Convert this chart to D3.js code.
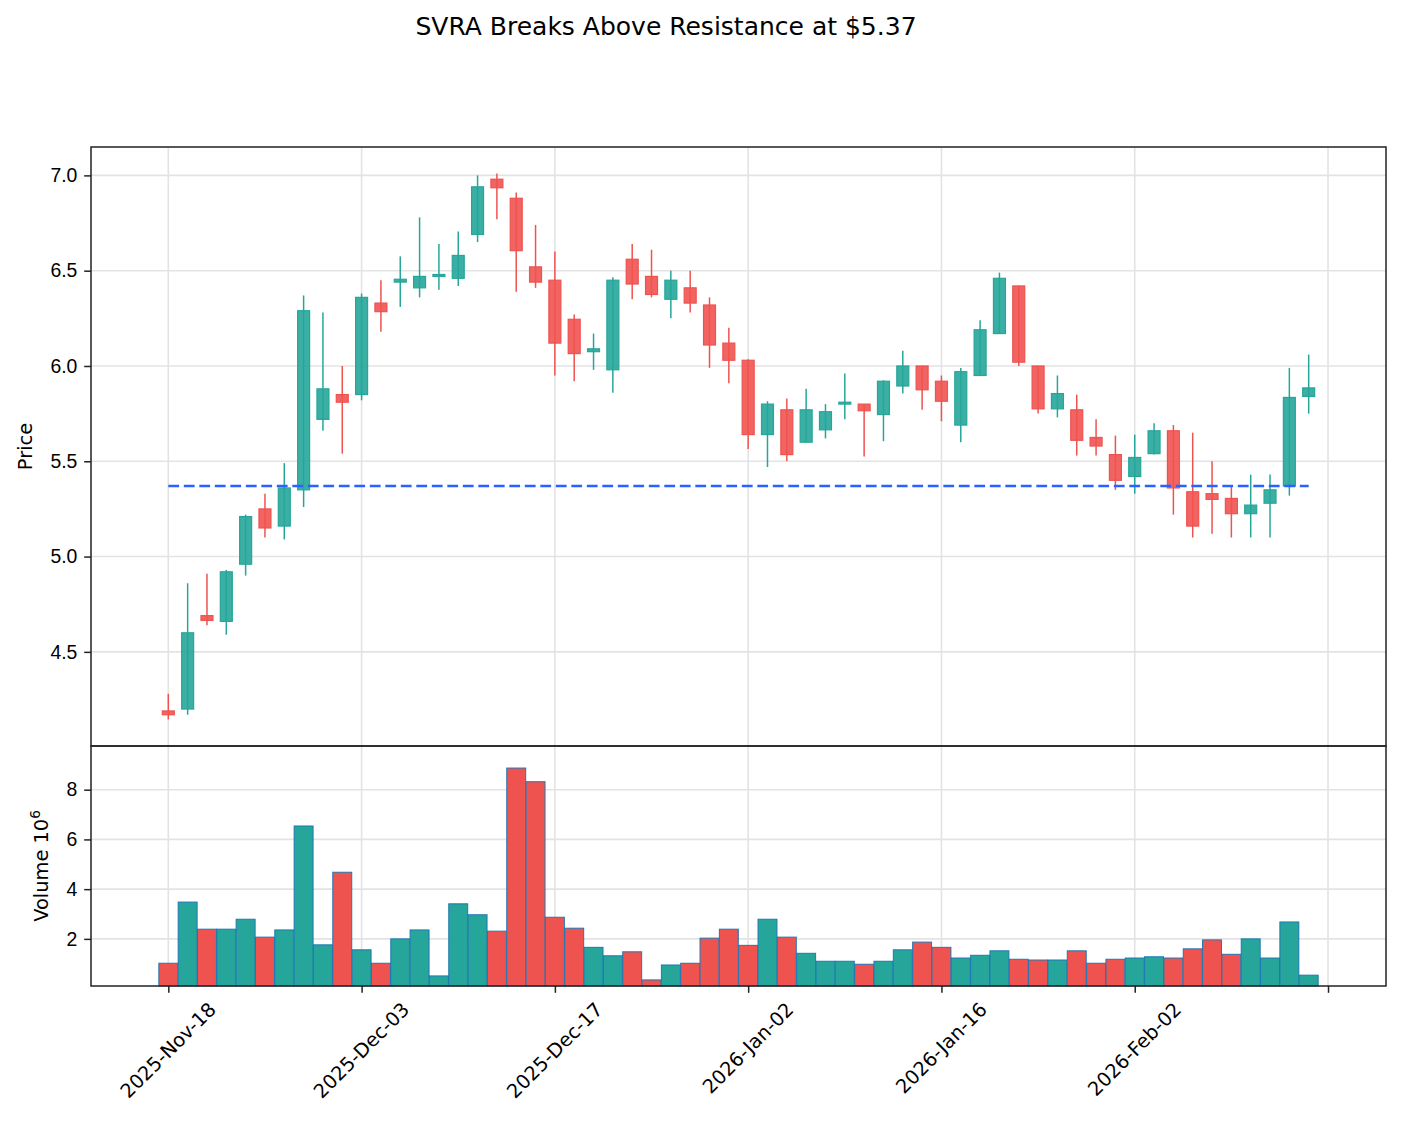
<!DOCTYPE html>
<html>
<head>
<meta charset="utf-8">
<script src="https://cdn.jsdelivr.net/npm/d3@7"></script>
<style>
  body { margin: 0; background: #fff; }
  svg { font-family: "DejaVu Sans", sans-serif; }
</style>
</head>
<body>
<div id="chart"></div>
<script>
// trading days, one per candle
const dates = [
  "2025-11-18","2025-11-19","2025-11-20","2025-11-21","2025-11-24","2025-11-25","2025-11-26","2025-11-28",
  "2025-12-01","2025-12-02","2025-12-03","2025-12-04","2025-12-05","2025-12-08","2025-12-09","2025-12-10",
  "2025-12-11","2025-12-12","2025-12-15","2025-12-16","2025-12-17","2025-12-18","2025-12-19","2025-12-22",
  "2025-12-23","2025-12-24","2025-12-26","2025-12-29","2025-12-30","2025-12-31","2026-01-02","2026-01-05",
  "2026-01-06","2026-01-07","2026-01-08","2026-01-09","2026-01-12","2026-01-13","2026-01-14","2026-01-15",
  "2026-01-16","2026-01-20","2026-01-21","2026-01-22","2026-01-23","2026-01-26","2026-01-27","2026-01-28",
  "2026-01-29","2026-01-30","2026-02-02","2026-02-03","2026-02-04","2026-02-05","2026-02-06","2026-02-09",
  "2026-02-10","2026-02-11","2026-02-12","2026-02-13"
];
const open = [4.19,4.20,4.69,4.66,4.96,5.25,5.16,5.35,5.72,5.85,
  5.85,6.33,6.44,6.41,6.47,6.46,6.69,6.98,6.88,6.52,
  6.45,6.245,6.075,5.98,6.56,6.47,6.35,6.41,6.32,6.12,
  6.03,5.64,5.77,5.60,5.665,5.80,5.80,5.745,5.895,6.00,
  5.92,5.69,5.95,6.17,6.42,6.00,5.775,5.77,5.625,5.535,
  5.42,5.54,5.66,5.34,5.33,5.305,5.225,5.28,5.37,5.84];
const high = [4.28,4.86,4.91,4.93,5.22,5.33,5.49,6.37,6.28,6.00,
  6.38,6.45,6.575,6.78,6.64,6.705,7.00,7.01,6.91,6.74,
  6.60,6.27,6.17,6.465,6.64,6.61,6.50,6.50,6.36,6.20,
  6.035,5.815,5.83,5.88,5.80,5.96,5.80,5.925,6.08,6.00,
  5.95,5.99,6.24,6.49,6.42,6.00,5.95,5.85,5.72,5.635,
  5.64,5.70,5.69,5.65,5.50,5.365,5.43,5.43,5.99,6.06];
const low = [4.145,4.17,4.64,4.59,4.90,5.10,5.09,5.26,5.66,5.54,
  5.82,6.18,6.31,6.36,6.40,6.42,6.65,6.77,6.39,6.41,
  5.95,5.92,5.98,5.86,6.35,6.36,6.25,6.28,5.99,5.91,
  5.565,5.47,5.50,5.60,5.62,5.72,5.525,5.605,5.855,5.77,
  5.71,5.60,5.95,6.17,6.00,5.75,5.73,5.53,5.53,5.35,
  5.33,5.535,5.22,5.10,5.12,5.10,5.10,5.10,5.32,5.75];
const close = [4.17,4.60,4.665,4.92,5.21,5.15,5.36,6.29,5.88,5.81,
  6.36,6.285,6.455,6.47,6.48,6.58,6.94,6.935,6.605,6.44,
  6.12,6.065,6.09,6.45,6.43,6.375,6.45,6.33,6.11,6.03,
  5.64,5.80,5.535,5.77,5.76,5.81,5.765,5.92,6.00,5.875,
  5.815,5.97,6.19,6.46,6.02,5.775,5.855,5.61,5.58,5.40,
  5.52,5.66,5.36,5.16,5.30,5.225,5.27,5.35,5.835,5.885];
// volume in millions
const volume = [1.02,3.48,2.39,2.39,2.79,2.07,2.36,6.54,1.76,4.68,
  1.56,1.02,2.00,2.36,0.51,3.41,2.97,2.31,8.87,8.32,
  2.87,2.43,1.66,1.32,1.48,0.35,0.95,1.02,2.03,2.39,
  1.74,2.79,2.07,1.42,1.10,1.10,0.98,1.10,1.56,1.87,
  1.66,1.23,1.34,1.52,1.18,1.15,1.15,1.52,1.02,1.18,
  1.23,1.28,1.23,1.60,1.96,1.38,2.00,1.23,2.68,0.54];
const resistance = 5.37;
const xTickIdx = [0, 10, 20, 30, 40, 50, 60];
const priceTicks = [4.5, 5.0, 5.5, 6.0, 6.5, 7.0];
const volTicks = [2, 4, 6, 8];

const upColor = "#26a69a", downColor = "#ef5350";
const W = 1402, H = 1126;
const L = 91, R = 1386, priceTop = 147, priceBottom = 746, volBottom = 986;
const fs = 19.4;

const parse = d3.timeParse("%Y-%m-%d"), fmt = d3.timeFormat("%Y-%b-%d");
const data = dates.map((d, i) => ({
  i, date: parse(d), o: open[i], h: high[i], l: low[i], c: close[i], v: volume[i]
}));

const svg = d3.select("#chart").append("svg")
  .attr("width", W).attr("height", H);

// scales
const x = d3.scaleLinear().domain([-4, data.length + 3]).range([L, R]);
const lo = d3.min(low), hi = d3.max(high), pad = (hi - lo) * 0.0485;
const y = d3.scaleLinear().domain([lo - pad, hi + pad]).range([priceBottom, priceTop]);
const yv = d3.scaleLinear().domain([0.3 * d3.min(volume), 1.1 * d3.max(volume)]).range([volBottom, priceBottom]);

// grid
const grid = svg.append("g").attr("stroke", "#e3e3e3").attr("stroke-width", 1.6);
xTickIdx.forEach(t => {
  grid.append("line").attr("x1", x(t)).attr("x2", x(t)).attr("y1", priceTop).attr("y2", volBottom);
});
priceTicks.forEach(t => {
  grid.append("line").attr("x1", L).attr("x2", R).attr("y1", y(t)).attr("y2", y(t));
});
volTicks.forEach(t => {
  grid.append("line").attr("x1", L).attr("x2", R).attr("y1", yv(t)).attr("y2", yv(t));
});

const unit = x(1) - x(0);

// volume bars
svg.append("g").selectAll("rect").data(data).join("rect")
  .attr("x", d => x(d.i - 0.49))
  .attr("width", unit * 0.98)
  .attr("y", d => yv(d.v))
  .attr("height", d => volBottom - yv(d.v))
  .attr("fill", d => d.c >= d.o ? upColor : downColor)
  .attr("stroke", "#1f77b4")
  .attr("stroke-width", 1);

// candles
const candles = svg.append("g").selectAll("g").data(data).join("g");
candles.append("line")
  .attr("x1", d => x(d.i)).attr("x2", d => x(d.i))
  .attr("y1", d => y(d.h)).attr("y2", d => y(d.l))
  .attr("stroke", d => d.c >= d.o ? upColor : downColor)
  .attr("stroke-width", 1.5);
const bw = unit * 0.62;
candles.append("rect")
  .attr("x", d => x(d.i) - bw / 2)
  .attr("width", bw)
  .attr("y", d => y(Math.max(d.o, d.c)))
  .attr("height", d => Math.max(1.5, Math.abs(y(d.o) - y(d.c))))
  .attr("fill", d => d.c >= d.o ? upColor : downColor)
  .attr("fill-opacity", 0.9)
  .attr("stroke", d => d.c >= d.o ? upColor : downColor)
  .attr("stroke-width", 1.2);

// resistance line
svg.append("line")
  .attr("x1", x(0)).attr("x2", x(data.length - 1))
  .attr("y1", y(resistance)).attr("y2", y(resistance))
  .attr("stroke", "#2962ff")
  .attr("stroke-width", 2.6)
  .attr("stroke-dasharray", "10.8,4.7");

// frames
const frame = svg.append("g").attr("fill", "none").attr("stroke", "#222").attr("stroke-width", 1.5);
frame.append("rect").attr("x", L).attr("y", priceTop).attr("width", R - L).attr("height", priceBottom - priceTop);
frame.append("rect").attr("x", L).attr("y", priceBottom).attr("width", R - L).attr("height", volBottom - priceBottom);

// axes
function styleAxis(g) {
  g.select(".domain").remove();
  g.selectAll(".tick line").attr("stroke", "#222").attr("stroke-width", 1.5);
  g.selectAll(".tick text").attr("fill", "#000").style("font-size", fs + "px");
}
svg.append("g").attr("transform", `translate(${L},0)`)
  .call(d3.axisLeft(y).tickValues(priceTicks).tickFormat(d3.format(".1f")).tickSize(6.8).tickPadding(6.8))
  .call(styleAxis);
svg.append("g").attr("transform", `translate(${L},0)`)
  .call(d3.axisLeft(yv).tickValues(volTicks).tickFormat(d3.format("d")).tickSize(6.8).tickPadding(6.8))
  .call(styleAxis);

const xAxis = svg.append("g").attr("transform", `translate(0,${volBottom})`)
  .call(d3.axisBottom(x).tickValues(xTickIdx).tickFormat(() => "").tickSize(6.8));
xAxis.select(".domain").remove();
xAxis.selectAll(".tick line").attr("stroke", "#222").attr("stroke-width", 1.5);

// rotated date labels, box centred under the tick
const labelTop = volBottom + 13.6, lh = fs * 0.95;
svg.append("g").selectAll("text").data(xTickIdx).join("text")
  .attr("text-anchor", "middle")
  .attr("dominant-baseline", "central")
  .style("font-size", fs + "px")
  .text(t => data[t] ? fmt(data[t].date) : "")
  .attr("transform", function(t) {
    const w = this.getComputedTextLength();
    const cy = labelTop + 0.7071 * (w + lh) / 2;
    return `translate(${x(t)},${cy}) rotate(-45)`;
  });

// axis labels
svg.append("text")
  .attr("transform", `translate(32,${(priceTop + priceBottom) / 2}) rotate(-90)`)
  .attr("text-anchor", "middle")
  .style("font-size", fs + "px")
  .text("Price");
const vl = svg.append("text")
  .attr("transform", `translate(48,${(priceBottom + volBottom) / 2}) rotate(-90)`)
  .attr("text-anchor", "middle")
  .style("font-size", fs + "px");
vl.append("tspan").text("Volume  10");
vl.append("tspan").attr("dy", -8).style("font-size", "13.6px").text("6");

// title
svg.append("text")
  .attr("x", 666).attr("y", 35)
  .attr("text-anchor", "middle")
  .style("font-size", "25px")
  .text("SVRA Breaks Above Resistance at $5.37");
</script>
</body>
</html>
